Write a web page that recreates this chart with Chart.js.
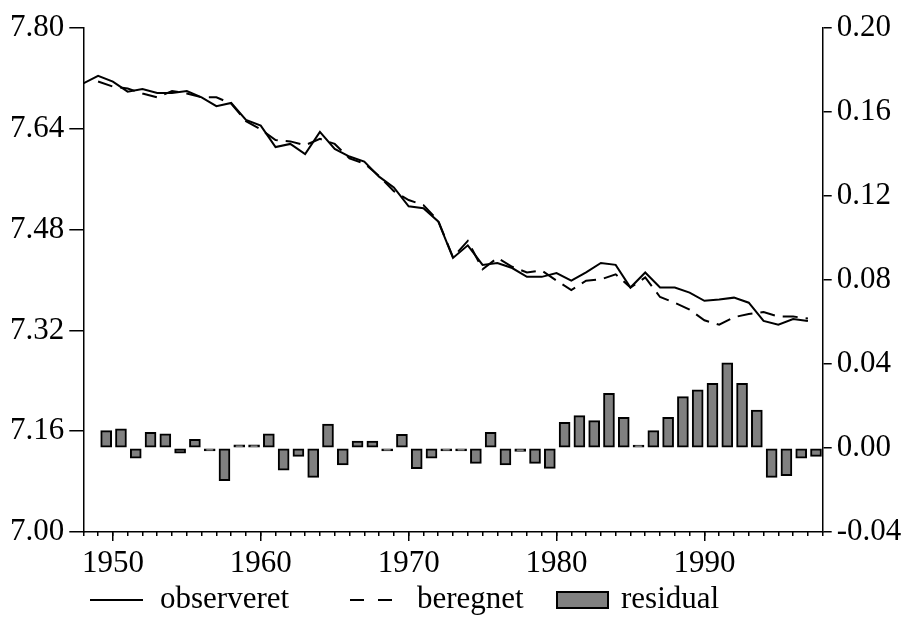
<!DOCTYPE html>
<html>
<head>
<meta charset="utf-8">
<script src="https://cdn.jsdelivr.net/npm/chart.js@4/dist/chart.umd.min.js"></script>
<style>
  body { margin: 0; background: #fff; }
  canvas { display: block; }
</style>
</head>
<body>
<canvas id="graf" width="905" height="622"></canvas>
<script>
// data
var aar = [1948, 1949, 1950, 1951, 1952, 1953, 1954, 1955, 1956, 1957,
           1958, 1959, 1960, 1961, 1962, 1963, 1964, 1965, 1966, 1967,
           1968, 1969, 1970, 1971, 1972, 1973, 1974, 1975, 1976, 1977,
           1978, 1979, 1980, 1981, 1982, 1983, 1984, 1985, 1986, 1987,
           1988, 1989, 1990, 1991, 1992, 1993, 1994, 1995, 1996, 1997];

var observeret = [7.712, 7.724, 7.715, 7.699, 7.703, 7.697, 7.697, 7.700, 7.690, 7.676,
                  7.681, 7.654, 7.645, 7.611, 7.616, 7.600, 7.635, 7.608, 7.596, 7.588,
                  7.564, 7.547, 7.517, 7.514, 7.493, 7.435, 7.455, 7.424, 7.427, 7.419,
                  7.405, 7.405, 7.411, 7.399, 7.412, 7.427, 7.424, 7.388, 7.412, 7.388,
                  7.388, 7.380, 7.367, 7.369, 7.372, 7.364, 7.335, 7.329, 7.338, 7.335];

var beregnet = [null, 7.715, 7.707, 7.704, 7.696, 7.690, 7.700, 7.696, 7.690, 7.690,
                7.680, 7.652, 7.639, 7.622, 7.620, 7.614, 7.624, 7.616, 7.593, 7.585,
                7.565, 7.541, 7.527, 7.519, 7.494, 7.436, 7.462, 7.417, 7.435, 7.421,
                7.412, 7.415, 7.399, 7.384, 7.399, 7.401, 7.409, 7.388, 7.404, 7.373,
                7.364, 7.353, 7.336, 7.329, 7.341, 7.346, 7.349, 7.342, 7.342, 7.339];

// residual starts 1949
var residual = [null, 0.0083, 0.0091, -0.0049, 0.0075, 0.0067, -0.0025, 0.0041, -0.0005, -0.0156,
                0.0015, 0.0015, 0.0067, -0.0105, -0.0040, -0.0140, 0.0114, -0.0081, 0.0033, 0.0033,
                -0.0010, 0.0065, -0.0099, -0.0049, -0.0005, -0.0005, -0.0073, 0.0075, -0.0081, -0.0016,
                -0.0073, -0.0097, 0.0122, 0.0154, 0.0130, 0.0260, 0.0146, 0.0003, 0.0083, 0.0146,
                0.0245, 0.0277, 0.0308, 0.0405, 0.0308, 0.0180, -0.0140, -0.0132, -0.0049, -0.0040];

var aarTicks = [1950, 1960, 1970, 1980, 1990];
var venstreTicks = [7.00, 7.16, 7.32, 7.48, 7.64, 7.80];
var hoejreTicks = [-0.04, 0.00, 0.04, 0.08, 0.12, 0.16, 0.20];

function punkter(vaerdier) {
    return aar.map(function (a, i) { return { x: a, y: vaerdier[i] }; });
}

var skrift = "'Liberation Serif', 'Times New Roman', serif";
Chart.defaults.font.family = skrift;
Chart.defaults.font.size = 31;
Chart.defaults.color = '#000';

var sort = '#000';
var legendeX = [90, 350, 557];
var legendeTekstX = [160, 417, 621];

// legend drawn under the axis, same look as the original
var forklaring = {
    id: 'forklaring',
    afterDraw: function (chart) {
        var ctx = chart.ctx;
        var y = 600;
        ctx.save();
        ctx.font = '31px ' + skrift;
        ctx.textBaseline = 'middle';
        ctx.textAlign = 'left';
        chart.data.datasets.forEach(function (ds, i) {
            var x = legendeX[i];
            ctx.lineWidth = 2;
            ctx.strokeStyle = ds.borderColor;
            if (ds.type === 'line') {
                var stiplet = !!ds.borderDash;
                ctx.setLineDash(stiplet ? [14, 14] : []);
                ctx.beginPath();
                ctx.moveTo(x, y);
                ctx.lineTo(x + (stiplet ? 42 : 53), y);
                ctx.stroke();
                ctx.setLineDash([]);
            } else {
                ctx.fillStyle = ds.backgroundColor;
                ctx.fillRect(x, y - 8, 51, 16);
                ctx.strokeRect(x, y - 8, 51, 16);
            }
            ctx.fillStyle = sort;
            ctx.fillText(ds.label, legendeTekstX[i], y);
        });
        ctx.restore();
    }
};

var ctx = document.getElementById('graf').getContext('2d');

var grafik = new Chart(ctx, {
    type: 'bar',
    data: {
        datasets: [
            {
                type: 'line',
                label: 'observeret',
                data: punkter(observeret),
                borderColor: sort,
                borderWidth: 2,
                pointRadius: 0,
                fill: false,
                tension: 0,
                xAxisID: 'x',
                yAxisID: 'y',
                order: 1
            },
            {
                type: 'line',
                label: 'beregnet',
                data: punkter(beregnet),
                borderColor: sort,
                borderWidth: 2,
                borderDash: [15, 8],
                pointRadius: 0,
                fill: false,
                tension: 0,
                xAxisID: 'x',
                yAxisID: 'y',
                order: 2
            },
            {
                type: 'bar',
                label: 'residual',
                data: punkter(residual),
                backgroundColor: '#808080',
                borderColor: sort,
                borderWidth: 2,
                borderSkipped: false,
                barThickness: 11,
                minBarLength: 3,
                xAxisID: 'xSoejle',
                yAxisID: 'y1',
                order: 3
            }
        ]
    },
    options: {
        responsive: false,
        animation: false,
        layout: { padding: { left: 0, right: 0, top: 28, bottom: 40 } },
        plugins: {
            tooltip: { enabled: false },
            legend: { display: false }
        },
        scales: {
            xSmaa: {
                type: 'linear',
                position: 'bottom',
                weight: 0,
                offset: false,
                min: 1948,
                max: 1998,
                afterBuildTicks: function (akse) {
                    akse.ticks = aar.concat([1998]).map(function (v) { return { value: v }; });
                },
                afterFit: function (akse) { akse.height = 0; },
                grid: { offset: false, drawOnChartArea: false, tickLength: 4, color: sort, lineWidth: 1.5 },
                border: { display: false },
                ticks: { autoSkip: false, maxRotation: 0, callback: function () { return ''; } }
            },
            x: {
                type: 'linear',
                position: 'bottom',
                weight: 1,
                offset: false,
                min: 1948,
                max: 1998,
                afterBuildTicks: function (akse) {
                    akse.ticks = aarTicks.map(function (v) { return { value: v }; });
                },
                afterFit: function (akse) { akse.height = 50; },
                grid: { offset: false, drawOnChartArea: false, tickLength: 9, color: sort, lineWidth: 1.5 },
                border: { display: true, color: sort, width: 1.5 },
                ticks: {
                    autoSkip: false,
                    maxRotation: 0,
                    padding: 4,
                    callback: function (v) { return String(v); }
                }
            },
            xSoejle: {
                type: 'linear',
                display: false,
                offset: false,
                min: 1948 - 0.175,
                max: 1998 - 0.175
            },
            y: {
                type: 'linear',
                position: 'left',
                min: 7.00,
                max: 7.80,
                afterBuildTicks: function (akse) {
                    akse.ticks = venstreTicks.map(function (v) { return { value: v }; });
                },
                afterFit: function (akse) { akse.width = 83.3; },
                grid: { drawOnChartArea: false, tickLength: 14, color: sort, lineWidth: 1.5 },
                border: { display: true, color: sort, width: 1.5 },
                ticks: { padding: 5, callback: function (v) { return v.toFixed(2); } }
            },
            y1: {
                type: 'linear',
                position: 'right',
                min: -0.04,
                max: 0.20,
                afterBuildTicks: function (akse) {
                    akse.ticks = hoejreTicks.map(function (v) { return { value: v }; });
                },
                afterFit: function (akse) { akse.width = 82.3; },
                grid: { drawOnChartArea: false, tickLength: 9, color: sort, lineWidth: 1.5 },
                border: { display: true, color: sort, width: 1.5 },
                ticks: { padding: 5, callback: function (v) { return v.toFixed(2); } }
            }
        }
    },
    plugins: [forklaring]
});
</script>
</body>
</html>
